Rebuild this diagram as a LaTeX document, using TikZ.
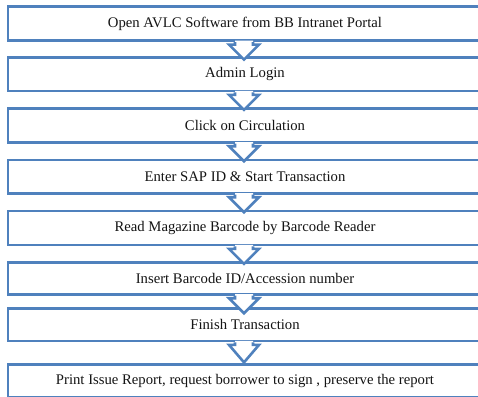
\documentclass[tikz,border=0pt]{standalone}
\usepackage{fontspec}
\setmainfont{Liberation Serif}
\usetikzlibrary{calc}
\definecolor{flowblue}{HTML}{4F81BD}
\definecolor{flowtext}{HTML}{141414}
\tikzset{
  stepbox/.style={draw=flowblue, line width=2.8pt, fill=white, minimum width=474pt,
    inner sep=0pt, text=flowtext, font=\fontsize{14.7}{17}\selectfont},
  downarrow/.style={draw=flowblue, line width=2.6pt, fill=white, line join=miter}
}
\begin{document}
\begin{tikzpicture}[x=1pt, y=-1pt]
\useasboundingbox (0,0) rectangle (478,396);
\begin{scope}
\clip (0,0) rectangle (478,396);
% process steps
\node[stepbox, minimum height=34pt]   (b1) at (245, 23.7)  {Open AVLC Software from BB Intranet Portal};
\node[stepbox, minimum height=33.7pt] (b2) at (245, 74.15) {Admin Login};
\node[stepbox, minimum height=34pt]   (b3) at (245, 125.3) {Click on Circulation};
\node[stepbox, minimum height=33.3pt] (b4) at (245, 176.65) {Enter SAP ID \& Start Transaction};
\node[stepbox, minimum height=34pt]   (b5) at (245, 228)   {Read Magazine Barcode by Barcode Reader};
\node[stepbox, minimum height=31.8pt] (b6) at (245, 278.4) {Insert Barcode ID/Accession number};
\node[stepbox, minimum height=32.7pt] (b7) at (245, 324.65) {Finish Transaction};
\node[stepbox, minimum height=33pt]   (b8) at (245, 380.8) {};
\node[text=flowtext, font=\fontsize{14.7}{17}\selectfont] (t8) at (245, 380.5)
  {Print Issue Report, request borrower to sign , preserve the report};
% block arrows between consecutive steps
\foreach \a/\b/\h in {b1/b2/15, b2/b3/15, b3/b4/15, b4/b5/15, b5/b6/15, b6/b7/15, b7/b8/17.5} {
  \coordinate (n\a) at ($(\a.south)+(-1pt,-2.5pt)$);
  \coordinate (tip\a) at ($(n\a)+(0,-\h pt)$);
  \path[fill=white] ($(\a.south)+(-10pt,1.5pt)$) -- ($(n\a)+(-9pt,0)$) -- ($(n\a)+(-15pt,0)$)
    -- (tip\a) -- ($(n\a)+(15pt,0)$) -- ($(n\a)+(9pt,0)$) -- ($(\a.south)+(8pt,1.5pt)$) -- cycle;
  \draw[downarrow] ($(n\a)+(-9pt,2.5pt)$) -- ($(n\a)+(-9pt,0)$) -- ($(n\a)+(-15pt,0)$)
    -- (tip\a) -- ($(n\a)+(15pt,0)$) -- ($(n\a)+(9pt,0)$) -- ($(n\a)+(9pt,2.5pt)$);
}
\end{scope}
\end{tikzpicture}
\end{document}
